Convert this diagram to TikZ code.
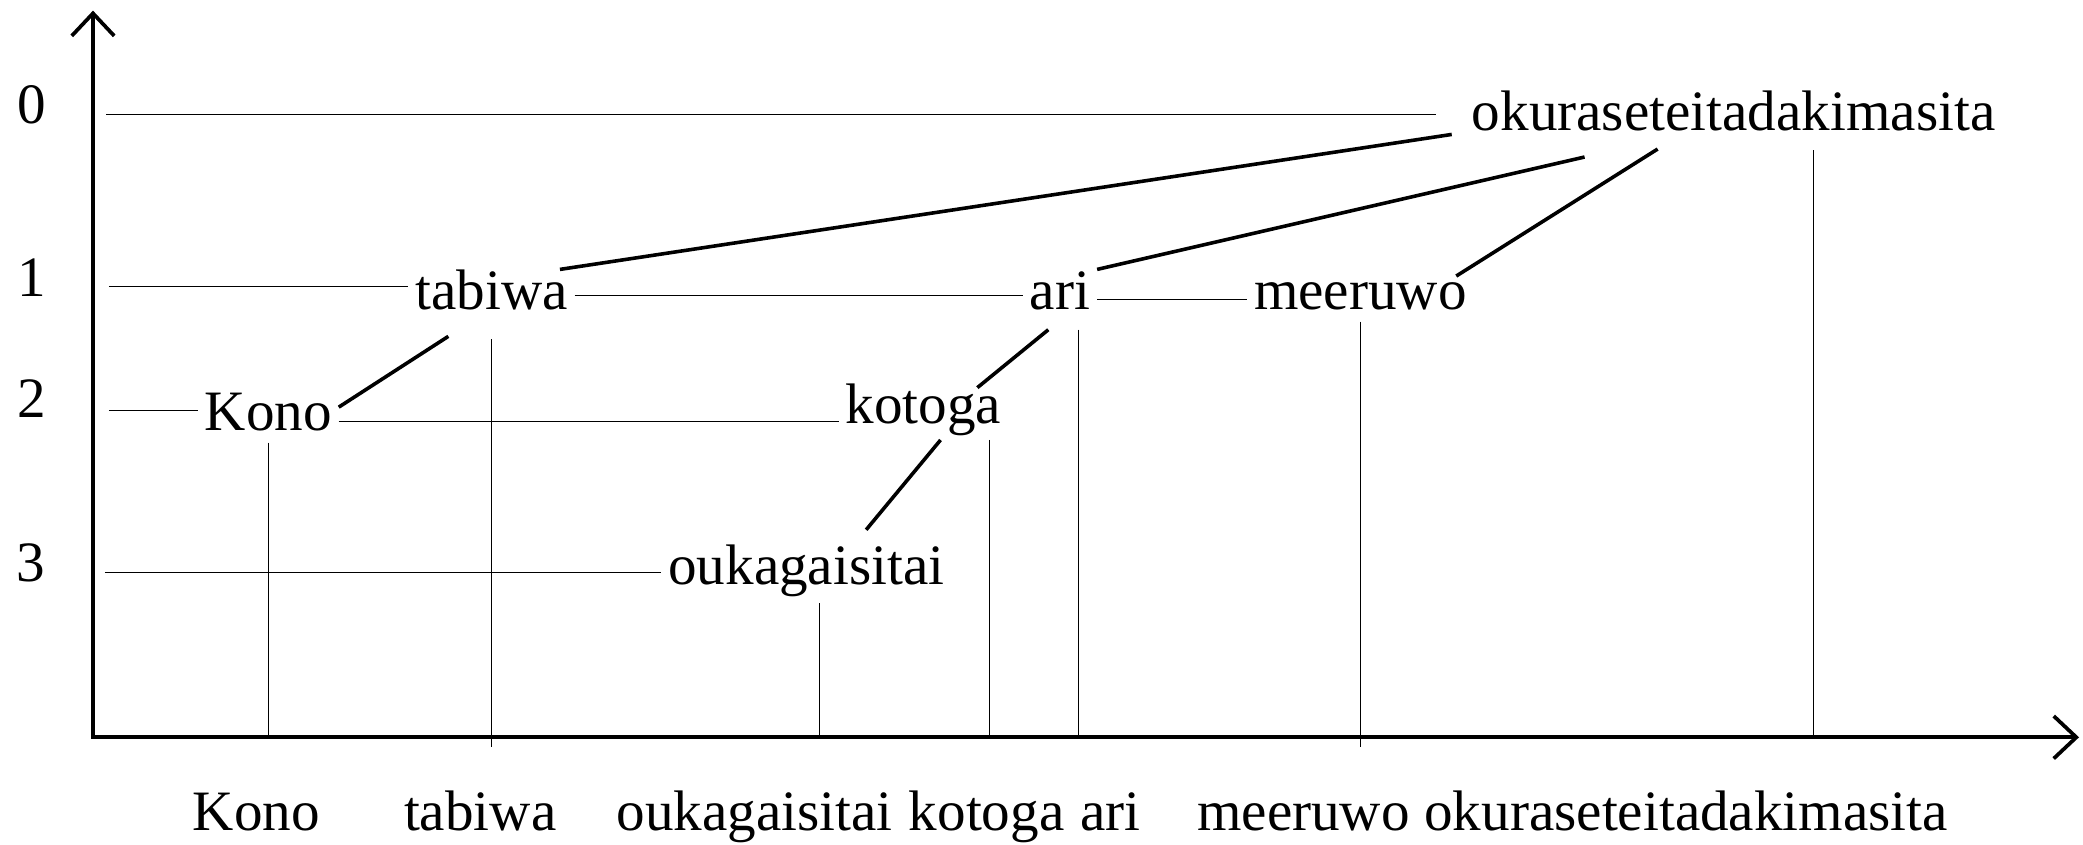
\documentclass[tikz,border=0pt]{standalone}
\usepackage{fontspec}
\setmainfont{Liberation Serif}
\usetikzlibrary{arrows.meta}
\begin{document}
\begin{tikzpicture}[x=1pt,y=-1pt,
  word/.style={font=\fontsize{43}{50}\selectfont, inner xsep=5pt, inner ysep=0pt,
               text height=30pt, text depth=9pt, anchor=base},
  leaf/.style={font=\fontsize{43}{50}\selectfont, inner sep=0pt, anchor=base west},
  levelnum/.style={font=\fontsize{43}{50}\selectfont, inner sep=0pt, anchor=base},
  axis/.style={line width=2.8pt, line cap=rect, -{Straight Barb[length=17pt,width=32pt]}},
  guide/.style={line width=0.8pt},
  branch/.style={line width=2.7pt},
]
\useasboundingbox (0,0) rectangle (1568,636);

% axes
\coordinate (O) at (70,555);
\coordinate (ytip) at (70,8);
\coordinate (xtip) at (1565,555);
\coordinate (low) at (0,562);

% level numbers
\node[levelnum] (n0) at (24,93) {0};
\node[levelnum] (n1) at (24,223) {1};
\node[levelnum] (n2) at (24,314) {2};
\node[levelnum] (n3) at (23,438) {3};

% tree words
\node[word] (okura)   at (1305,98)  {okuraseteitadakimasita};
\node[word] (tabiwa)  at (370,233)  {tabiwa};
\node[word] (ari)     at (798,233)  {ari};
\node[word] (meeruwo) at (1024,233) {meeruwo};
\node[word] (kono)    at (202,324)  {Kono};
\node[word] (kotoga)  at (695,319)  {kotoga};
\node[word] (ouka)    at (607,440)  {oukagaisitai};

% level guide lines, kept horizontal
\coordinate (L0) at (80,86);
\coordinate (L1) at (82,216);
\coordinate (L2) at (82,309);
\coordinate (L3) at (79,431);
\coordinate (k2) at ([yshift=-3.5pt]kono.east);
\coordinate (a1) at ([yshift=-3pt]ari.east);
\draw[guide, shorten >=22pt] (L0) -- (L0 -| okura.west);
\draw[guide] (L1) -- (L1 -| tabiwa.west);
\draw[guide] (tabiwa.east) -- (ari.west);
\draw[guide] (a1) -- (a1 -| meeruwo.west);
\draw[guide] (L2) -- (L2 -| kono.west);
\draw[guide] (k2) -- (k2 -| kotoga.west);
\draw[guide] (L3) -- (L3 -| ouka.west);

% dependency branches
\draw[branch] ([xshift=-11pt]tabiwa.north east) -- ([xshift=-10pt,yshift=6pt]okura.south west);
\draw[branch] (ari.north east) -- ([xshift=90pt,yshift=-11pt]okura.south west);
\draw[branch] ([xshift=-13pt,yshift=-5pt]meeruwo.north east) -- ([xshift=145pt,yshift=-5pt]okura.south west);
\draw[branch] ([yshift=7pt]kono.east) -- ([xshift=30pt,yshift=-11pt]tabiwa.south west);
\draw[branch] ([xshift=-23pt,yshift=-3pt]kotoga.north east) -- ([xshift=19pt,yshift=-6pt]ari.south west);
\draw[branch] ([xshift=45pt,yshift=11pt]ouka.north) -- ([xshift=13pt,yshift=-3pt]kotoga.south);

% projection lines down to the word axis
\coordinate (d-kono)    at (kono.south);
\coordinate (d-tabiwa)  at ([yshift=-13pt]tabiwa.south);
\coordinate (d-ouka)    at ([xshift=10pt,yshift=-5pt]ouka.south);
\coordinate (d-kotoga)  at ([xshift=50pt,yshift=-3pt]kotoga.south);
\coordinate (d-ari)     at ([xshift=14pt,yshift=-6pt]ari.south);
\coordinate (d-meeruwo) at (meeruwo.south);
\coordinate (d-okura)   at ([xshift=60pt,yshift=-6pt]okura.south);
\draw[guide] (d-kono) -- (d-kono |- O);
\draw[guide] (d-tabiwa) -- (d-tabiwa |- low);
\draw[guide] (d-ouka) -- (d-ouka |- O);
\draw[guide] (d-kotoga) -- (d-kotoga |- O);
\draw[guide] (d-ari) -- (d-ari |- O);
\draw[guide] (d-meeruwo) -- (d-meeruwo |- low);
\draw[guide] (d-okura) -- (d-okura |- O);

\draw[axis] (O) -- (ytip);
\draw[axis] (O) -- (xtip);

% linear order of the words
\node[leaf] (b-kono)    at (145,625) {Kono};
\node[leaf] (b-tabiwa)  at (304,625) {tabiwa};
\node[leaf] (b-ouka)    at (464,625) {oukagaisitai};
\node[leaf] (b-kotoga)  at (684,625) {kotoga};
\node[leaf] (b-ari)     at (813,625) {ari};
\node[leaf] (b-meeruwo) at (901,625) {meeruwo};
\node[leaf] (b-okura)   at (1072,625) {okuraseteitadakimasita};
\end{tikzpicture}
\end{document}
